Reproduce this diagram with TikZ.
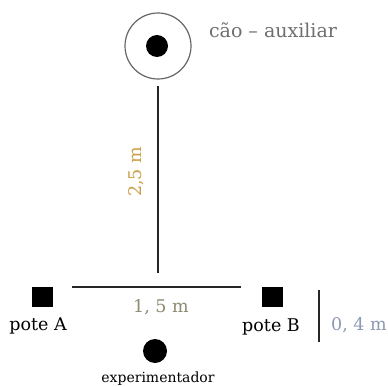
\documentclass[tikz,border=0pt]{standalone}
\usepackage{fontspec}
\setmainfont{DejaVu Serif}
\definecolor{lbl}{HTML}{6E6E6E}
\definecolor{gold}{HTML}{C9A046}
\definecolor{olive}{HTML}{8E8A70}
\definecolor{bluegray}{HTML}{8C9AB4}
\begin{document}
\begin{tikzpicture}[x=1pt,y=-1pt,
  txt/.style={inner sep=0pt, font=\fontsize{17.5}{20}\selectfont},
  pot/.style={fill=black, inner sep=0pt, minimum width=21pt, minimum height=20pt},
  dot/.style={circle, fill=black, inner sep=0pt},
  ln/.style={line width=1.3pt, draw=black!85}]
\useasboundingbox (0,0) rectangle (387,387);
\fill[white] (0,0) rectangle (387,387);
% dog
\node[circle, draw=black!60, line width=1.2pt, minimum size=66pt, inner sep=0pt] (dog) at (158,46) {};
\node[dot, minimum size=22pt] (dogdot) at (157,46) {};
\node[txt, text=lbl, font=\fontsize{19}{22}\selectfont] (doglbl) at (273,30) {cão – auxiliar};
\coordinate (vbot) at (158,273);
\draw[ln] (dog.south) ++(0,6) coordinate (vtop) -- (vbot);
\node[txt, text=gold, rotate=90] (l25) at (136,172) {2,5 m};
% pots
\node[pot] (potA) at (42,297) {};
\node[pot] (potB) at (272,297) {};
\draw[ln, shorten <=19pt, shorten >=20pt] (potA.north east |- 0,287) coordinate (ha) (ha) -- (potB.north west |- ha);
\node[txt] (lA) at (38,326) {pote A};
\node[txt] (lB) at (271,327) {pote B};
\node[txt, text=olive] (l15) at (161,307) {1, 5 m};
% 0,4 m
\coordinate (sa) at (319,290);
\coordinate (sb) at (319,342);
\draw[ln] (sa) -- (sb);
\node[txt, text=bluegray] (l04) at (359,325) {0, 4 m};
% experimenter
\node[dot, minimum size=24pt] (exp) at (155,351) {};
\node[txt, font=\fontsize{14}{17}\selectfont] (lexp) at (158,379) {experimentador};
\end{tikzpicture}
\end{document}
